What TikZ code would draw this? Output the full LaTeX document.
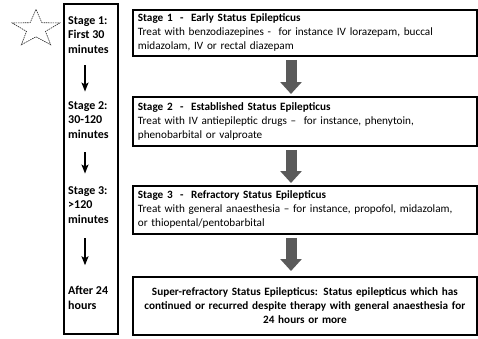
\documentclass[tikz,border=0pt]{standalone}
\usepackage{fontspec}
\setmainfont{Carlito}
\usetikzlibrary{arrows.meta}
\definecolor{arrowgrey}{HTML}{5A5A5A}
\begin{document}
\begin{tikzpicture}[x=1pt,y=-1pt,
  every node/.style={font=\fontsize{11.2}{14}\selectfont},
  stagebox/.style={draw, line width=1.8pt, anchor=north west, minimum width=344pt,
    text width=334pt, inner xsep=5pt, inner ysep=0pt, align=left},
  timebox/.style={draw, line width=2.2pt, anchor=north west, minimum width=54pt, minimum height=330pt, inner sep=0pt},
  timetext/.style={anchor=base west, align=left, inner sep=0pt, font=\fontsize{12}{14.2}\selectfont\bfseries},
  timearrow/.style={line width=1.3pt, -{Stealth[width=7pt,length=9pt,inset=2pt]}},
  blockarrow/.style={arrowgrey, line width=11pt, -{Triangle[width=21pt,length=12pt]}},
  starline/.style={draw=black!85, line width=0.6pt, dash pattern=on 1.5pt off 0.8pt}
]
\useasboundingbox (0,0) rectangle (478,338);

% star
\begin{scope}[shift={(36,29)}, xscale=25, yscale=19.5]
\draw[starline] (-90:1) -- (-54:0.4) -- (-18:1) -- (18:0.4) -- (54:1) -- (90:0.4)
  -- (126:1) -- (162:0.4) -- (198:1) -- (234:0.4) -- cycle;
\end{scope}

% left time column (base anchor = baseline of the last line)
\node[timebox] (tcol) at (63,3) {};
\node[timetext] (s1) at (68,53) {Stage 1:\\First 30\\minutes};
\node[timetext] (s2) at (68,138) {Stage 2:\\30-120\\minutes};
\node[timetext] (s3) at (68,223) {Stage 3:\\>120\\minutes};
\node[timetext] (s4) at (68,309) {After 24\\hours};
\coordinate (ax) at (85,0);
\draw[timearrow] ([yshift=-12pt]s1.south -| ax) -- ([yshift=10pt]s2.north -| ax);
\draw[timearrow] ([yshift=-14pt]s2.south -| ax) -- ([yshift=13pt]s3.north -| ax);
\draw[timearrow] ([yshift=-15pt]s3.south -| ax) -- ([yshift=21pt]s4.north -| ax);

% right boxes
\node[stagebox, minimum height=46pt] (b1) at (132,9)
  {\textbf{Stage 1~ -~ Early Status Epilepticus}\\
   Treat with benzodiazepines -~ for instance IV lorazepam, buccal\\
   midazolam, IV or rectal diazepam};
\node[stagebox, minimum height=49pt] (b2) at (132,96)
  {\textbf{Stage 2~ -~ Established Status Epilepticus}\\
   Treat with IV antiepileptic drugs --~ for instance, phenytoin,\\
   phenobarbital or valproate};
\node[stagebox, minimum height=48pt] (b3) at (132,185)
  {\textbf{Stage 3~ -~ Refractory Status Epilepticus}\\
   Treat with general anaesthesia -- for instance, propofol, midazolam,\\
   or thiopental/pentobarbital};
\node[stagebox, minimum height=58pt, align=center] (b4) at (132,276)
  {\textbf{Super-refractory Status Epilepticus: Status epilepticus which has}\\
   \textbf{continued or recurred despite therapy with general anaesthesia for}\\
   \textbf{24 hours or more}};

\coordinate (bx) at (291,0);
\draw[blockarrow] ([yshift=-3pt]b1.south -| bx) -- ([yshift=2pt]b2.north -| bx);
\draw[blockarrow] ([yshift=-3pt]b2.south -| bx) -- ([yshift=2pt]b3.north -| bx);
\draw[blockarrow] ([yshift=-3pt]b3.south -| bx) -- ([yshift=5pt]b4.north -| bx);
\end{tikzpicture}
\end{document}
